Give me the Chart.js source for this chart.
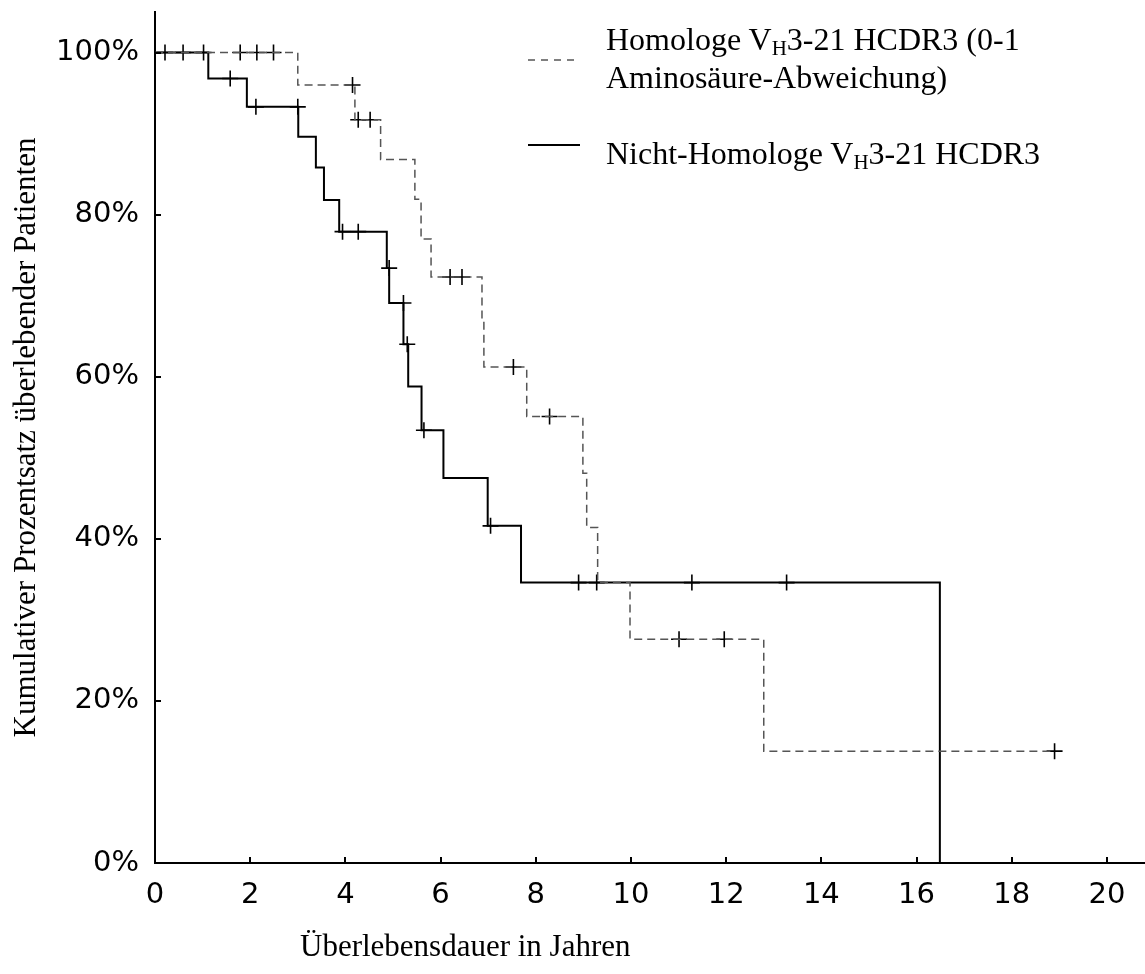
<!DOCTYPE html>
<html>
<head>
<meta charset="utf-8">
<script src="https://cdn.jsdelivr.net/npm/chart.js@4"></script>
<style>
  html, body { margin: 0; padding: 0; background: #fff; }
  #wrap { position: relative; width: 1145px; height: 974px; }
  .serif { position: absolute; font-family: "Liberation Serif", "Times New Roman", serif; font-size: 32px; line-height: 38px; color: #000; white-space: nowrap; }
  .serif sub { font-size: 21px; vertical-align: -5px; line-height: 0; }
  .xtitle { font-size: 31px; }
  .sample { position: absolute; left: 526px; }
</style>
</head>
<body>
<div id="wrap">
  <canvas id="km" width="1145" height="974"></canvas>
  <svg class="sample" style="top:54px;" width="56" height="12"><line x1="2" y1="6" x2="54" y2="6" stroke="#555" stroke-width="1.5" stroke-dasharray="7,6"/></svg>
  <div class="serif" style="left:606px; top:20px;">Homologe V<sub>H</sub>3-21 HCDR3 (0-1<br>Aminosäure-Abweichung)</div>
  <svg class="sample" style="top:139px;" width="56" height="12"><line x1="2" y1="6" x2="54" y2="6" stroke="#000" stroke-width="2"/></svg>
  <div class="serif" style="left:606px; top:134px;">Nicht-Homologe V<sub>H</sub>3-21 HCDR3</div>
  <div class="serif xtitle" style="left:300px; top:927px;">Überlebensdauer in Jahren</div>
</div>
<script>
(function() {
  'use strict';

  // ── Data ────────────────────────────────────────────────────
  // Homologe VH3-21 HCDR3: event times (years) and survival (%)
  const homTimes = [0, 3.0, 4.2, 4.74, 5.46, 5.59, 5.80, 6.87, 6.91, 7.81, 8.99, 9.07, 9.30, 9.98, 12.79, 18.9];
  const homSurv  = [100, 96.0, 91.7, 86.8, 81.9, 77.0, 72.3, 66.7, 61.2, 55.1, 48.1, 41.4, 34.6, 27.6, 13.8, 13.8];
  const homCensTimes = [1.79, 2.14, 2.49, 4.15, 4.27, 4.52, 6.20, 6.45, 7.53, 8.29, 11.01, 11.96, 18.9];
  const homCensSurv  = [100, 100, 100, 96.0, 91.7, 91.7, 72.3, 72.3, 61.2, 55.1, 27.6, 27.6, 13.8];

  // Nicht-Homologe VH3-21 HCDR3
  const nonTimes = [0, 1.12, 1.93, 3.01, 3.38, 3.55, 3.87, 4.87, 4.92, 5.22, 5.32, 5.60, 6.06, 6.99, 7.69, 16.49];
  const nonSurv  = [100, 96.8, 93.3, 89.6, 85.8, 81.8, 77.9, 73.4, 69.1, 64.0, 58.8, 53.4, 47.5, 41.6, 34.6, 0];
  const nonCensTimes = [0.21, 0.59, 1.02, 1.58, 2.12, 3.0, 3.94, 4.27, 4.92, 5.22, 5.30, 5.65, 7.05, 8.90, 9.28, 11.28, 13.27];
  const nonCensSurv  = [100, 100, 100, 96.8, 93.3, 93.3, 77.9, 77.9, 73.4, 69.1, 64.0, 53.4, 41.6, 34.6, 34.6, 34.6, 34.6];

  const xTicks = [0, 2, 4, 6, 8, 10, 12, 14, 16, 18, 20];
  const yTicks = [0, 20, 40, 60, 80, 100];

  const pts = (xs, ys) => xs.map((x, i) => ({ x: x, y: ys[i] }));

  // ── Inward tick marks ───────────────────────────────────────
  const innerTicks = {
    id: 'innerTicks',
    afterDraw(chart) {
      const c = chart.ctx, xs = chart.scales.x, ys = chart.scales.y;
      const area = chart.chartArea;
      c.save();
      c.strokeStyle = '#000';
      c.lineWidth = 2;
      c.beginPath();
      xTicks.forEach(v => {
        const px = Math.round(xs.getPixelForValue(v));
        c.moveTo(px, area.bottom);
        c.lineTo(px, area.bottom - 6);
      });
      yTicks.forEach(v => {
        const py = Math.round(ys.getPixelForValue(v));
        c.moveTo(area.left, py);
        c.lineTo(area.left + 6, py);
      });
      c.stroke();
      c.restore();
    }
  };

  const tickFont = { family: '"DejaVu Sans", "Liberation Sans", sans-serif', size: 29 };

  new Chart(document.getElementById('km').getContext('2d'), {
    type: 'line',
    data: {
      datasets: [
        {
          label: 'Homologe',
          data: pts(homTimes, homSurv),
          stepped: true,
          borderColor: '#555',
          borderWidth: 1.5,
          borderDash: [8, 5],
          pointRadius: 0,
          fill: false
        },
        {
          label: 'Nicht-Homologe',
          data: pts(nonTimes, nonSurv),
          stepped: true,
          borderColor: '#000',
          borderWidth: 2,
          pointRadius: 0,
          fill: false
        },
        {
          type: 'scatter',
          label: 'zensiert hom',
          data: pts(homCensTimes, homCensSurv),
          showLine: false,
          pointStyle: 'cross',
          pointRadius: 8,
          borderColor: '#000',
          borderWidth: 1.6
        },
        {
          type: 'scatter',
          label: 'zensiert non',
          data: pts(nonCensTimes, nonCensSurv),
          showLine: false,
          pointStyle: 'cross',
          pointRadius: 8,
          borderColor: '#000',
          borderWidth: 1.6
        }
      ]
    },
    options: {
      responsive: false,
      animation: false,
      layout: { autoPadding: false, padding: { left: 0, right: 0, top: 12, bottom: 0 } },
      plugins: {
        legend: { display: false },
        tooltip: { enabled: false }
      },
      scales: {
        x: {
          type: 'linear',
          min: 0,
          max: 20.8,
          grid: { display: false, drawTicks: false },
          border: { display: true, color: '#000', width: 2 },
          ticks: {
            stepSize: 2,
            includeBounds: false,
            padding: 15,
            color: '#000',
            font: tickFont,
            maxRotation: 0
          },
          afterFit: s => { s.height = 111; s.paddingLeft = 0; s.paddingRight = 0; }
        },
        y: {
          min: 0,
          max: 105,
          grid: { display: false, drawTicks: false },
          border: { display: true, color: '#000', width: 2 },
          ticks: {
            stepSize: 20,
            includeBounds: false,
            padding: 16,
            color: '#000',
            font: tickFont,
            callback: v => v + '%'
          },
          title: {
            display: true,
            text: 'Kumulativer Prozentsatz überlebender Patienten',
            color: '#000',
            font: { family: '"Liberation Serif", "Times New Roman", serif', size: 31 },
            padding: { top: 8, bottom: 0 }
          },
          afterFit: s => { s.width = 155; s.paddingTop = 0; s.paddingBottom = 0; }
        }
      }
    },
    plugins: [innerTicks]
  });
})();
</script>
</body>
</html>
